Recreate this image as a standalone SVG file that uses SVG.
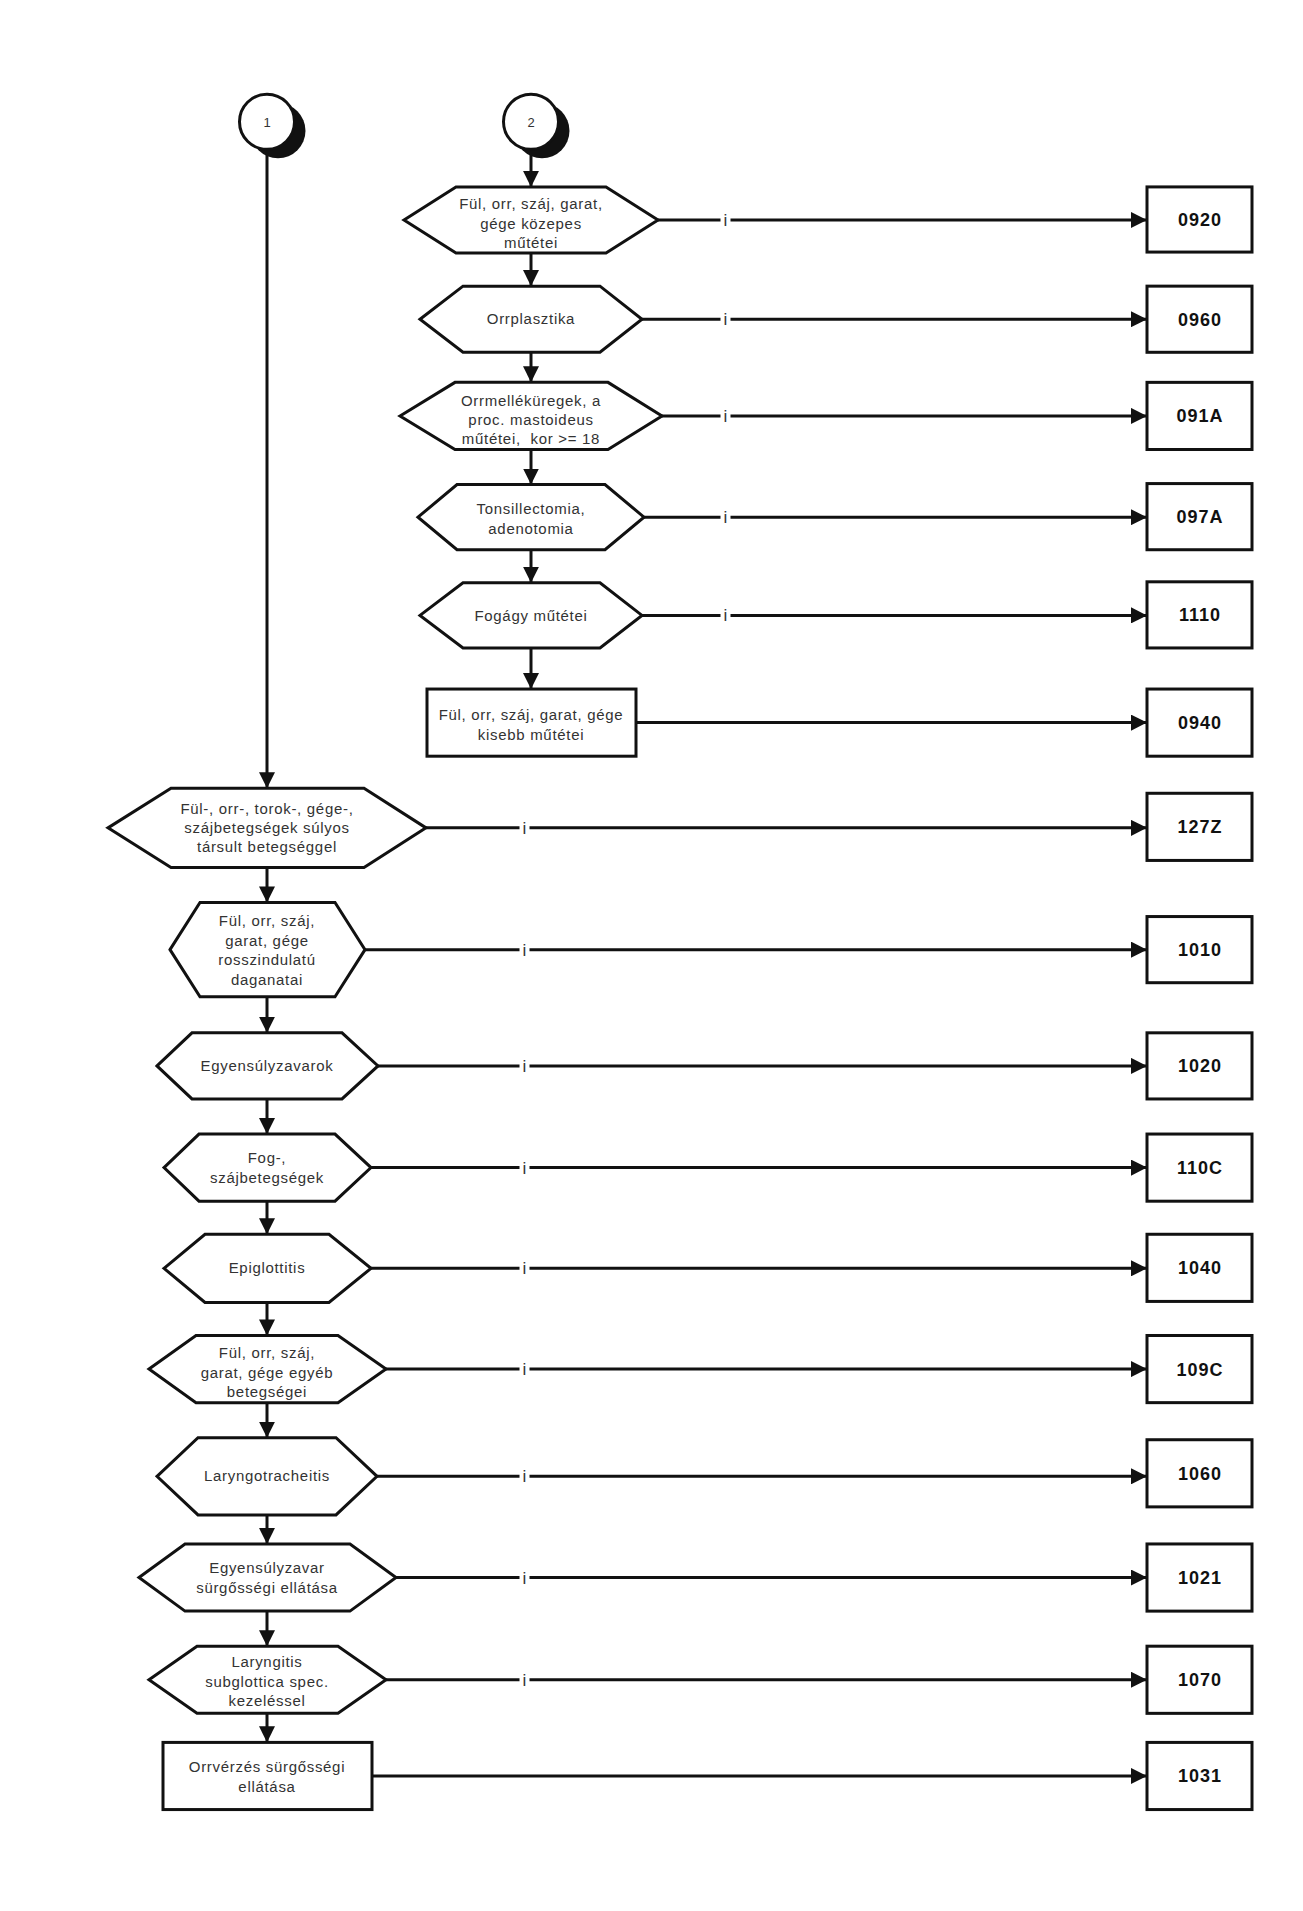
<svg xmlns="http://www.w3.org/2000/svg" width="1303" height="1911" viewBox="0 0 1303 1911">
<defs>
<marker id="ah" markerWidth="16" markerHeight="16" refX="16" refY="8" orient="auto" markerUnits="userSpaceOnUse"><path d="M0,0 L16,8 L0,16 Z" fill="#111"/></marker>
</defs>
<style>
.s{fill:#fff;stroke:#111;stroke-width:3}
.c{fill:none;stroke:#111;stroke-width:3}
.t{font-family:"Liberation Sans",Arial,sans-serif;font-size:15px;letter-spacing:0.7px;fill:#333;text-anchor:middle}
.b{font-family:"Liberation Sans",Arial,sans-serif;font-size:18px;letter-spacing:1px;font-weight:bold;fill:#111;text-anchor:middle}
.i{font-family:"Liberation Sans",Arial,sans-serif;font-size:17px;fill:#333;text-anchor:middle}
.g{fill:#fff}
</style>
<rect width="1303" height="1911" fill="#fff"/>
<g transform="matrix(1,0,0,1.00225,0,0.5)">
<g id="connectors">
<line class="c" x1="267" y1="149" x2="267" y2="786" marker-end="url(#ah)"/>
<line class="c" x1="531" y1="149" x2="531" y2="186" marker-end="url(#ah)"/>
<line class="c" x1="531" y1="252" x2="531" y2="285" marker-end="url(#ah)"/>
<line class="c" x1="531" y1="351" x2="531" y2="381" marker-end="url(#ah)"/>
<line class="c" x1="531" y1="448" x2="531" y2="483" marker-end="url(#ah)"/>
<line class="c" x1="531" y1="548" x2="531" y2="581" marker-end="url(#ah)"/>
<line class="c" x1="531" y1="646" x2="531" y2="687" marker-end="url(#ah)"/>
<line class="c" x1="267" y1="865" x2="267" y2="900" marker-end="url(#ah)"/>
<line class="c" x1="267" y1="994" x2="267" y2="1030" marker-end="url(#ah)"/>
<line class="c" x1="267" y1="1096" x2="267" y2="1131" marker-end="url(#ah)"/>
<line class="c" x1="267" y1="1198" x2="267" y2="1231" marker-end="url(#ah)"/>
<line class="c" x1="267" y1="1299" x2="267" y2="1332" marker-end="url(#ah)"/>
<line class="c" x1="267" y1="1399" x2="267" y2="1434" marker-end="url(#ah)"/>
<line class="c" x1="267" y1="1511" x2="267" y2="1540" marker-end="url(#ah)"/>
<line class="c" x1="267" y1="1607" x2="267" y2="1642" marker-end="url(#ah)"/>
<line class="c" x1="267" y1="1709" x2="267" y2="1738" marker-end="url(#ah)"/>

<line class="c" x1="658" y1="219" x2="1147" y2="219" marker-end="url(#ah)"/>
<line class="c" x1="642" y1="318" x2="1147" y2="318" marker-end="url(#ah)"/>
<line class="c" x1="662" y1="414.5" x2="1147" y2="414.5" marker-end="url(#ah)"/>
<line class="c" x1="644" y1="515.5" x2="1147" y2="515.5" marker-end="url(#ah)"/>
<line class="c" x1="642" y1="613.5" x2="1147" y2="613.5" marker-end="url(#ah)"/>
<line class="c" x1="636" y1="720.5" x2="1147" y2="720.5" marker-end="url(#ah)"/>
<line class="c" x1="426" y1="825.5" x2="1147" y2="825.5" marker-end="url(#ah)"/>
<line class="c" x1="365" y1="947" x2="1147" y2="947" marker-end="url(#ah)"/>
<line class="c" x1="378" y1="1063" x2="1147" y2="1063" marker-end="url(#ah)"/>
<line class="c" x1="371" y1="1164.5" x2="1147" y2="1164.5" marker-end="url(#ah)"/>
<line class="c" x1="371" y1="1265" x2="1147" y2="1265" marker-end="url(#ah)"/>
<line class="c" x1="386" y1="1365.5" x2="1147" y2="1365.5" marker-end="url(#ah)"/>
<line class="c" x1="377" y1="1472.5" x2="1147" y2="1472.5" marker-end="url(#ah)"/>
<line class="c" x1="396" y1="1573.5" x2="1147" y2="1573.5" marker-end="url(#ah)"/>
<line class="c" x1="386" y1="1675.5" x2="1147" y2="1675.5" marker-end="url(#ah)"/>
<line class="c" x1="372" y1="1771.5" x2="1147" y2="1771.5" marker-end="url(#ah)"/>

<g id="labels">
<rect class="g" x="720.5" y="209" width="10" height="20"/><text class="i" x="725.5" y="225">i</text>
<rect class="g" x="720.5" y="308" width="10" height="20"/><text class="i" x="725.5" y="324">i</text>
<rect class="g" x="720.5" y="404.5" width="10" height="20"/><text class="i" x="725.5" y="420.5">i</text>
<rect class="g" x="720.5" y="505.5" width="10" height="20"/><text class="i" x="725.5" y="521.5">i</text>
<rect class="g" x="720.5" y="603.5" width="10" height="20"/><text class="i" x="725.5" y="619.5">i</text>
<rect class="g" x="519.5" y="815.5" width="10" height="20"/><text class="i" x="524.5" y="831.5">i</text>
<rect class="g" x="519.5" y="937" width="10" height="20"/><text class="i" x="524.5" y="953">i</text>
<rect class="g" x="519.5" y="1053" width="10" height="20"/><text class="i" x="524.5" y="1069">i</text>
<rect class="g" x="519.5" y="1154.5" width="10" height="20"/><text class="i" x="524.5" y="1170.5">i</text>
<rect class="g" x="519.5" y="1255" width="10" height="20"/><text class="i" x="524.5" y="1271">i</text>
<rect class="g" x="519.5" y="1355.5" width="10" height="20"/><text class="i" x="524.5" y="1371.5">i</text>
<rect class="g" x="519.5" y="1462.5" width="10" height="20"/><text class="i" x="524.5" y="1478.5">i</text>
<rect class="g" x="519.5" y="1563.5" width="10" height="20"/><text class="i" x="524.5" y="1579.5">i</text>
<rect class="g" x="519.5" y="1665.5" width="10" height="20"/><text class="i" x="524.5" y="1681.5">i</text>
</g>
</g>

<g id="c1">
<circle cx="278" cy="130" r="27.5" fill="#111"/>
<circle class="s" cx="267" cy="121" r="27.5"/>
<text class="t" x="267" y="126" style="font-size:13px;letter-spacing:0">1</text>
</g>
<g id="c2">
<circle cx="542" cy="130" r="27.5" fill="#111"/>
<circle class="s" cx="531" cy="121" r="27.5"/>
<text class="t" x="531" y="126" style="font-size:13px;letter-spacing:0">2</text>
</g>

<g id="r1"><polygon class="s" points="404,219 456,186 606,186 658,219 606,252 456,252"/>
<text class="t" x="531" y="208">Fül, orr, száj, garat,</text><text class="t" x="531" y="228">gége közepes</text><text class="t" x="531" y="247">műtétei</text></g>
<g id="r2"><polygon class="s" points="420,318 463,285 600,285 642,318 600,351 463,351"/>
<text class="t" x="531" y="323">Orrplasztika</text></g>
<g id="r3"><polygon class="s" points="400,414.5 455,381 608,381 662,414.5 608,448 455,448"/>
<text class="t" x="531" y="405">Orrmelléküregek, a</text><text class="t" x="531" y="424">proc. mastoideus</text><text class="t" x="531" y="443" xml:space="preserve">műtétei,  kor &gt;= 18</text></g>
<g id="r4"><polygon class="s" points="418,515.5 457,483 605,483 644,515.5 605,548 457,548"/>
<text class="t" x="531" y="512">Tonsillectomia,</text><text class="t" x="531" y="532">adenotomia</text></g>
<g id="r5"><polygon class="s" points="420,613.5 463,581 600,581 642,613.5 600,646 463,646"/>
<text class="t" x="531" y="619">Fogágy műtétei</text></g>
<g id="r6"><rect class="s" x="427" y="687" width="209" height="67"/>
<text class="t" x="531" y="718">Fül, orr, száj, garat, gége</text><text class="t" x="531" y="738">kisebb műtétei</text></g>

<g id="l1"><polygon class="s" points="108,825.5 171,786 364,786 426,825.5 364,865 171,865"/>
<text class="t" x="267" y="812">Fül-, orr-, torok-, gége-,</text><text class="t" x="267" y="831">szájbetegségek súlyos</text><text class="t" x="267" y="850">társult betegséggel</text></g>
<g id="l2"><polygon class="s" points="170,947 200,900 335,900 365,947 335,994 200,994"/>
<text class="t" x="267" y="923">Fül, orr, száj,</text><text class="t" x="267" y="943">garat, gége</text><text class="t" x="267" y="962">rosszindulatú</text><text class="t" x="267" y="982">daganatai</text></g>
<g id="l3"><polygon class="s" points="157,1063 192,1030 342,1030 378,1063 342,1096 192,1096"/>
<text class="t" x="267" y="1068">Egyensúlyzavarok</text></g>
<g id="l4"><polygon class="s" points="164,1164.5 199,1131 335,1131 371,1164.5 335,1198 199,1198"/>
<text class="t" x="267" y="1160">Fog-,</text><text class="t" x="267" y="1180">szájbetegségek</text></g>
<g id="l5"><polygon class="s" points="164,1265 205,1231 329,1231 371,1265 329,1299 205,1299"/>
<text class="t" x="267" y="1270">Epiglottitis</text></g>
<g id="l6"><polygon class="s" points="149,1365.5 196,1332 338,1332 386,1365.5 338,1399 196,1399"/>
<text class="t" x="267" y="1354">Fül, orr, száj,</text><text class="t" x="267" y="1374">garat, gége egyéb</text><text class="t" x="267" y="1393">betegségei</text></g>
<g id="l7"><polygon class="s" points="157,1472.5 198,1434 336,1434 377,1472.5 336,1511 198,1511"/>
<text class="t" x="267" y="1477">Laryngotracheitis</text></g>
<g id="l8"><polygon class="s" points="139,1573.5 185,1540 350,1540 396,1573.5 350,1607 185,1607"/>
<text class="t" x="267" y="1569">Egyensúlyzavar</text><text class="t" x="267" y="1589">sürgősségi ellátása</text></g>
<g id="l9"><polygon class="s" points="149,1675.5 197,1642 338,1642 386,1675.5 338,1709 197,1709"/>
<text class="t" x="267" y="1663">Laryngitis</text><text class="t" x="267" y="1683">subglottica spec.</text><text class="t" x="267" y="1702">kezeléssel</text></g>
<g id="l10"><rect class="s" x="163" y="1738" width="209" height="67"/>
<text class="t" x="267" y="1768">Orrvérzés sürgősségi</text><text class="t" x="267" y="1787">ellátása</text></g>

<g id="b0920"><rect class="s" x="1147" y="186" width="105" height="65"/><text class="b" x="1200" y="225">0920</text></g>
<g id="b0960"><rect class="s" x="1147" y="285" width="105" height="66"/><text class="b" x="1200" y="324.5">0960</text></g>
<g id="b091A"><rect class="s" x="1147" y="381" width="105" height="67"/><text class="b" x="1200" y="421">091A</text></g>
<g id="b097A"><rect class="s" x="1147" y="482" width="105" height="66"/><text class="b" x="1200" y="521.5">097A</text></g>
<g id="b1110"><rect class="s" x="1147" y="580" width="105" height="66"/><text class="b" x="1200" y="619.5">1110</text></g>
<g id="b0940"><rect class="s" x="1147" y="687" width="105" height="67"/><text class="b" x="1200" y="727">0940</text></g>
<g id="b127Z"><rect class="s" x="1147" y="791" width="105" height="67"/><text class="b" x="1200" y="831">127Z</text></g>
<g id="b1010"><rect class="s" x="1147" y="914" width="105" height="66"/><text class="b" x="1200" y="953.5">1010</text></g>
<g id="b1020"><rect class="s" x="1147" y="1030" width="105" height="66"/><text class="b" x="1200" y="1069.5">1020</text></g>
<g id="b110C"><rect class="s" x="1147" y="1131" width="105" height="67"/><text class="b" x="1200" y="1171">110C</text></g>
<g id="b1040"><rect class="s" x="1147" y="1231" width="105" height="67"/><text class="b" x="1200" y="1271">1040</text></g>
<g id="b109C"><rect class="s" x="1147" y="1332" width="105" height="67"/><text class="b" x="1200" y="1372">109C</text></g>
<g id="b1060"><rect class="s" x="1147" y="1436" width="105" height="67"/><text class="b" x="1200" y="1476">1060</text></g>
<g id="b1021"><rect class="s" x="1147" y="1540" width="105" height="67"/><text class="b" x="1200" y="1580">1021</text></g>
<g id="b1070"><rect class="s" x="1147" y="1642" width="105" height="67"/><text class="b" x="1200" y="1682">1070</text></g>
<g id="b1031"><rect class="s" x="1147" y="1738" width="105" height="67"/><text class="b" x="1200" y="1778">1031</text></g>
</g>
</svg>
